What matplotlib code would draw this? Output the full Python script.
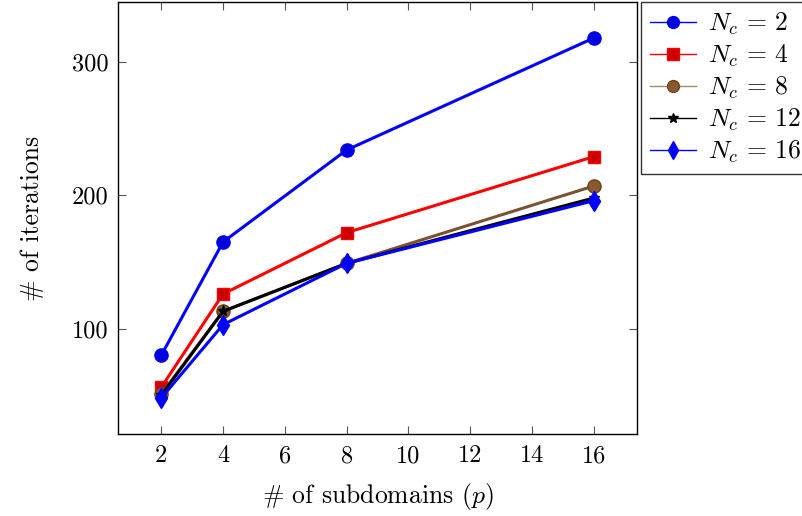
import matplotlib
matplotlib.use("Agg")
import matplotlib.pyplot as plt
from matplotlib.lines import Line2D

plt.rcParams['font.family'] = 'cmr10'
plt.rcParams['mathtext.fontset'] = 'cm'
plt.rcParams['axes.formatter.use_mathtext'] = True

subdomains = [2, 4, 8, 16]
iters_nc2 = [80, 165, 234, 318]
iters_nc4 = [56, 126, 172, 229]
iters_nc8 = [51, 113, 149, 207]
iters_nc12 = [50, 113, 149, 198]
iters_nc16 = [48, 103, 149, 196]
labels = [r'$N_c\,=\,2$', r'$N_c\,=\,4$', r'$N_c\,=\,8$', r'$N_c\,=\,12$', r'$N_c\,=\,16$']
xticks = [2, 4, 6, 8, 10, 12, 14, 16]
yticks = [100, 200, 300]

brown = '#7a5230'
styles = [
    dict(color='#0000ff', marker='o', mfc='#0000dd', mec='#0000ff', ms=9.5),
    dict(color='#ff0000', marker='s', mfc='#cc0000', mec='#ff0000', ms=9),
    dict(color=brown, marker='o', mfc='#8a5a2e', mec='#6a4422', ms=9.5),
    dict(color='black', marker='*', mfc='black', mec='black', ms=8),
    dict(color='#0000ff', marker='d', mfc='#0000ff', mec='#0000ff', ms=10),
]
legend_colors = ['#0000ff', '#ff0000', '#a88868', 'black', '#0000ff']
series = [iters_nc2, iters_nc4, iters_nc8, iters_nc12, iters_nc16]

fig = plt.figure(figsize=(8.03, 5.16), dpi=100)
ax = fig.add_axes([118/803, 82/516, 519/803, 432/516])

for ys, st in zip(series, styles):
    ax.plot(subdomains, ys, lw=2.2, zorder=3, **st)

ax.set_xlim(0.6, 17.4)
ax.set_ylim(21, 345)
ax.set_xticks(xticks)
ax.set_xticklabels([str(t) for t in xticks])
ax.set_yticks(yticks)
ax.set_yticklabels([str(t) for t in yticks])
ax.tick_params(direction='in', top=True, right=True, length=6, width=0.8,
               labelsize=17.5, color='#555555')
ax.tick_params(axis='x', pad=8)
ax.tick_params(axis='y', pad=7)
for s in ax.spines.values():
    s.set_linewidth(1.0)
ax.set_xlabel(r'# of subdomains ($p$)', fontsize=18.5, labelpad=10)
ax.set_ylabel(r'# of iterations', fontsize=18.5, labelpad=20)

handles = []
for st, lc in zip(styles, legend_colors):
    d = dict(st)
    d['color'] = lc
    d['ms'] = d['ms'] * 0.9
    handles.append(Line2D([], [], lw=1.0, **d))
leg = fig.legend(handles, labels, loc='upper left', bbox_to_anchor=(641/803, 1 - 2/516),
                 fontsize=18.5, frameon=True, fancybox=False, edgecolor='black',
                 handlelength=1.8, handletextpad=0.45, borderpad=0.35, labelspacing=0.22,
                 borderaxespad=0)
leg.get_frame().set_linewidth(1.0)

fig.savefig('out.png', dpi=100)
